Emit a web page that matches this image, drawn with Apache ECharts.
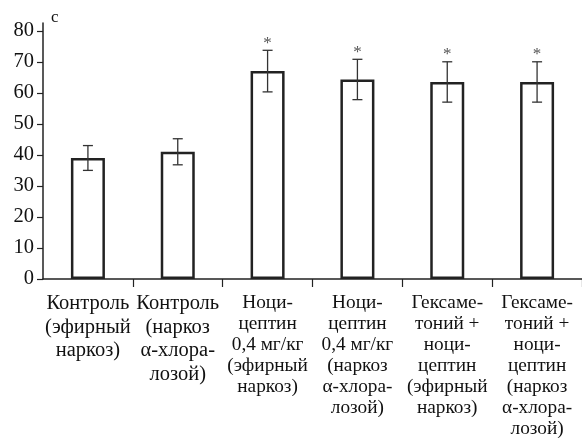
<!DOCTYPE html>
<html><head><meta charset="utf-8">
<script src="https://cdn.jsdelivr.net/npm/echarts@6/dist/echarts.min.js"></script>
<style>html,body{margin:0;padding:0;background:#fff}#c{width:582px;height:442px}</style>
</head><body><div id="c"></div>
<script>
const categories = [
  'Контроль\n(эфирный\nнаркоз)',
  'Контроль\n(наркоз\nα-хлора-\nлозой)',
  'Ноци-\nцептин\n0,4 мг/кг\n(эфирный\nнаркоз)',
  'Ноци-\nцептин\n0,4 мг/кг\n(наркоз\nα-хлора-\nлозой)',
  'Гексаме-\nтоний +\nноци-\nцептин\n(эфирный\nнаркоз)',
  'Гексаме-\nтоний +\nноци-\nцептин\n(наркоз\nα-хлора-\nлозой)'
];
const means = [39, 41, 67, 64.3, 63.5, 63.5];
const errors = [4, 4.2, 6.7, 6.5, 6.5, 6.5];
const significant = [0, 0, 1, 1, 1, 1];
const yTicks = [0, 10, 20, 30, 40, 50, 60, 70, 80];
const yUnit = 'с';

const FONT = '"Liberation Serif", "Times New Roman", serif';
const chart = echarts.init(document.getElementById('c'));
chart.setOption({
  animation: false,
  backgroundColor: '#fff',
  title: {
    text: yUnit, left: 46, top: 4,
    textStyle: {fontFamily: FONT, fontSize: 17, fontWeight: 'normal', color: '#111'}
  },
  grid: {left: 43, right: -8.5, top: 23, bottom: 163, containLabel: false},
  xAxis: {
    type: 'category',
    data: categories,
    boundaryGap: true,
    axisLine: {lineStyle: {color: '#222', width: 1.5}},
    axisTick: {show: true, length: 8, lineStyle: {color: '#222', width: 1.2},
      interval: function (i) { return i > 0; }},
    axisLabel: {
      interval: 0, margin: 13, color: '#111', fontFamily: FONT,
      formatter: function (v, i) { return (i < 2 ? '{a|' : '{b|') + v + '}'; },
      rich: {
        a: {fontFamily: FONT, fontSize: 20.5, lineHeight: 23.5, color: '#111', align: 'center'},
        b: {fontFamily: FONT, fontSize: 19.3, lineHeight: 21, color: '#111', align: 'center'}
      }
    },
    splitLine: {show: false}
  },
  yAxis: {
    type: 'value', min: 0, max: 82.5,
    axisLine: {show: true, lineStyle: {color: '#222', width: 1.5}},
    axisTick: {show: true, length: 6, customValues: yTicks, lineStyle: {color: '#222', width: 1.2}},
    axisLabel: {customValues: yTicks, margin: 9, color: '#111', fontFamily: FONT, fontSize: 20.5},
    splitLine: {show: false}
  },
  series: [
    {
      type: 'bar',
      data: means,
      barWidth: 34,
      itemStyle: {color: '#fff', borderColor: '#222', borderWidth: 2.5},
      z: 2
    },
    {
      type: 'custom',
      data: means.map((m, i) => [i, m, errors[i], significant[i]]),
      z: 5,
      renderItem: function (params, api) {
        const i = api.value(0), m = api.value(1), e = api.value(2), s = api.value(3);
        const top = api.coord([i, m + e]);
        const bot = api.coord([i, m - e]);
        const hw = 5;
        const st = {stroke: '#333', lineWidth: 1.3};
        const children = [
          {type: 'line', shape: {x1: top[0], y1: top[1], x2: bot[0], y2: bot[1]}, style: st},
          {type: 'line', shape: {x1: top[0] - hw, y1: top[1], x2: top[0] + hw, y2: top[1]}, style: st},
          {type: 'line', shape: {x1: bot[0] - hw, y1: bot[1], x2: bot[0] + hw, y2: bot[1]}, style: st}
        ];
        if (s) {
          children.push({type: 'text', style: {text: '*', x: top[0], y: top[1] + 1.5, align: 'center', verticalAlign: 'bottom', fontSize: 17, fontFamily: FONT, fill: '#555'}});
        }
        return {type: 'group', children: children};
      }
    }
  ]
});
</script></body></html>
